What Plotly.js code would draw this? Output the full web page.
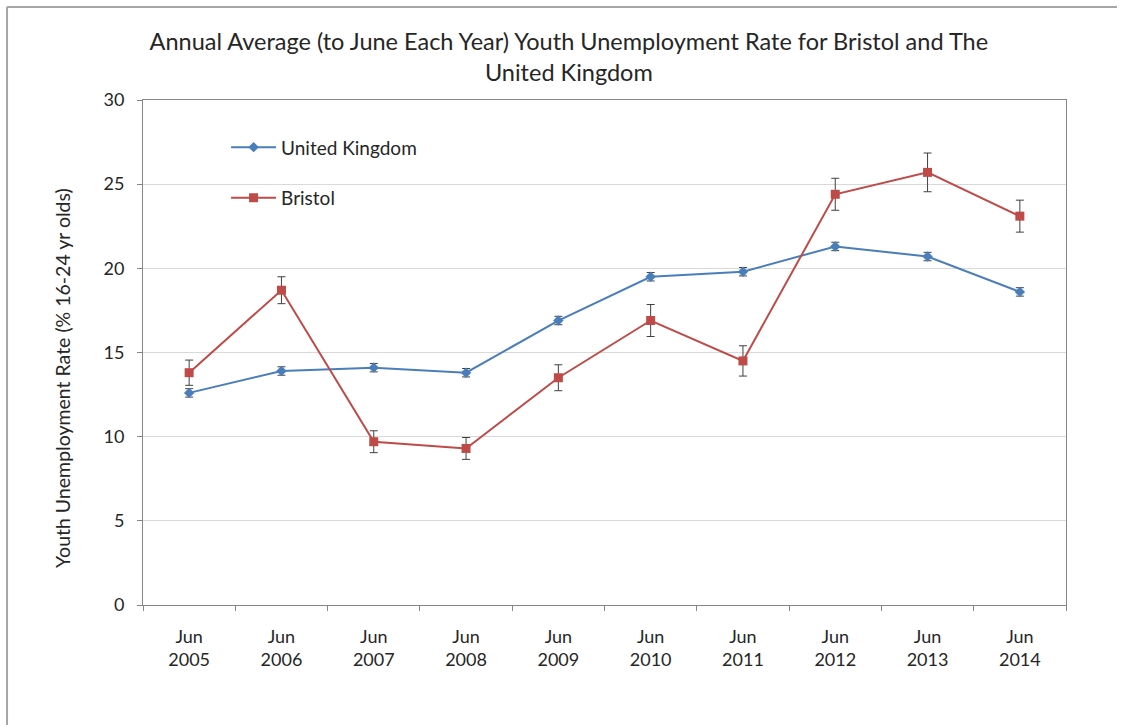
<!DOCTYPE html>
<html>
<head>
<meta charset="utf-8">
<script src="https://cdn.plot.ly/plotly-3.0.1.min.js"></script>
<style>
html,body{margin:0;padding:0;background:#fff;}
#chart{width:1122px;height:725px;}
</style>
</head>
<body>
<div id="chart"></div>
<script>
const categories = ["Jun<br>2005","Jun<br>2006","Jun<br>2007","Jun<br>2008","Jun<br>2009","Jun<br>2010","Jun<br>2011","Jun<br>2012","Jun<br>2013","Jun<br>2014"];
const ukValues = [12.6, 13.9, 14.1, 13.8, 16.9, 19.5, 19.8, 21.3, 20.7, 18.6];
const ukErrors = [0.25, 0.25, 0.25, 0.25, 0.25, 0.25, 0.25, 0.25, 0.25, 0.25];
const bristolValues = [13.8, 18.7, 9.7, 9.3, 13.5, 16.9, 14.5, 24.4, 25.7, 23.1];
const bristolErrors = [0.75, 0.8, 0.65, 0.65, 0.77, 0.95, 0.9, 0.95, 1.15, 0.95];
const yAxisTitle = "Youth Unemployment Rate (% 16-24 yr olds)";

const FONT = "Lato, 'Open Sans', sans-serif";

const traces = [
  {
    x: categories, y: ukValues, name: "United Kingdom", type: "scatter", mode: "lines+markers",
    legendgroup: "uk",
    line: {color: "#4A7EBB", width: 2},
    marker: {symbol: "diamond", size: 8, color: "#4A7EBB"},
    error_y: {type: "data", array: ukErrors, visible: true, color: "#404040", thickness: 1, width: 4}
  },
  {
    x: categories, y: bristolValues, name: "Bristol", type: "scatter", mode: "lines+markers",
    legendgroup: "bristol",
    line: {color: "#BE4B48", width: 2},
    marker: {symbol: "square", size: 9, color: "#BE4B48"},
    error_y: {type: "data", array: bristolErrors, visible: true, color: "#404040", thickness: 1, width: 4}
  }
];

const layout = {
  width: 1122, height: 725,
  margin: {l: 143, r: 56, t: 100, b: 120},
  paper_bgcolor: "#fff", plot_bgcolor: "#fff",
  font: {family: FONT, color: "#404040", size: 18},
  title: {
    text: "Annual Average (to June Each Year) Youth Unemployment Rate for Bristol and The<br>United Kingdom",
    font: {family: FONT, size: 23.5, color: "#262626"},
    x: 0.507, xanchor: "center", y: 0.931, yanchor: "top"
  },
  xaxis: {
    type: "category",
    range: [-0.5, 9.5],
    showline: true, linecolor: "#868686", linewidth: 1,
    mirror: true,
    ticks: "outside", ticklen: 5, tickcolor: "#868686", tickson: "boundaries",
    showgrid: false, zeroline: false,
    tickfont: {family: FONT, size: 18, color: "#262626"},
    ticklabelstandoff: 15
  },
  yaxis: {
    range: [0, 30], dtick: 5,
    showline: true, linecolor: "#868686", linewidth: 1,
    mirror: true,
    ticks: "outside", ticklen: 5, tickcolor: "#868686",
    showgrid: true, gridcolor: "#D9D9D9", gridwidth: 1, zeroline: false,
    tickfont: {family: FONT, size: 18, color: "#262626"},
    ticklabelstandoff: 9
  },
  showlegend: true,
  legend: {
    x: 0.09, y: 0.944, xanchor: "left", yanchor: "top",
    bgcolor: "rgba(0,0,0,0)",
    font: {family: FONT, size: 19, color: "#262626"},
    traceorder: "grouped", tracegroupgap: 23,
    itemwidth: 45
  },
  annotations: [
    {text: yAxisTitle, xref: "paper", yref: "paper", x: -0.0878, y: 0.4495,
     xanchor: "center", yanchor: "middle", textangle: -90, showarrow: false,
     font: {family: FONT, size: 19.5, color: "#262626"}}
  ],
  shapes: [
    {type: "line", xref: "paper", yref: "paper", x0: -0.1473, x1: 1.0553, y0: 1.184, y1: 1.184, line: {color: "#A6A6A6", width: 2}},
    {type: "line", xref: "paper", yref: "paper", x0: -0.1473, x1: -0.1473, y0: 1.184, y1: -0.3, line: {color: "#A6A6A6", width: 2}}
  ]
};

Plotly.newPlot("chart", traces, layout, {displayModeBar: false, staticPlot: true});
</script>
</body>
</html>
